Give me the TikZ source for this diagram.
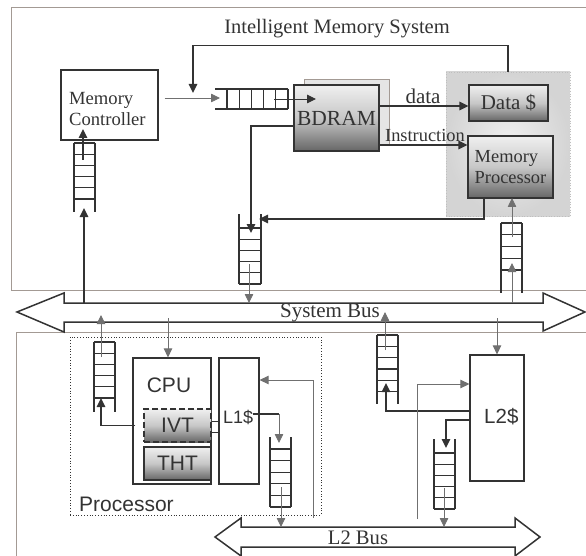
\documentclass[tikz,border=0pt]{standalone}
\usepackage{fontspec}
\setmainfont{Liberation Serif}
\setsansfont{Liberation Sans}
\usetikzlibrary{arrows.meta,shadings,calc}
\definecolor{brn}{HTML}{A39A94}
\definecolor{ink}{HTML}{333333}
\definecolor{thn}{HTML}{707070}
\newcommand{\fsz}[1]{\fontsize{#1}{#1}\selectfont}
\newcommand{\vqueue}[5]{\draw[qline] (#1,#3) -- (#1,#4) (#2,#3) -- (#2,#4);
  \foreach \yy in {#5} {\draw[qline] (#1,\yy) -- (#2,\yy);}}
\begin{document}
\begin{tikzpicture}[x=1pt,y=-1pt,
  outer/.style={draw=brn,line width=0.9pt},
  box/.style={draw=ink,line width=1.2pt,inner sep=0pt},
  gbox/.style={box,top color=black!6,bottom color=black!60,middle color=black!22,text=ink},
  qline/.style={draw=ink,line width=1.3pt},
  thk/.style={draw=ink,line width=1.6pt},
  thn/.style={draw=thn,line width=0.8pt},
  arr/.style={-{Triangle[length=9pt,width=8.5pt]}},
  bus/.style={draw=ink,line width=1.5pt,fill=white},
  lbl/.style={text=ink,inner sep=0pt}
]
\useasboundingbox (0,0) rectangle (586,556);
% outer frames
\draw[outer] (586,7) -- (11,7) -- (11,290) -- (586,290);
\draw[outer] (586,332) -- (16,332) -- (16,556);
% title
\node[lbl,font=\fsz{20.5}] (title) at (337,29) {Intelligent Memory System};
% memory controller
\node[box,minimum width=97pt,minimum height=70pt] (mc) at (109.5,105) {};
\node[lbl,font=\fontsize{18.6}{20.5}\selectfont,align=left,anchor=west] (mctext) at (69,109) {Memory\\Controller};
% BDRAM
\node[draw=brn,fill=black!10,line width=0.8pt,minimum width=85pt,minimum height=66pt] (bdback) at (346.5,112) {};
\node[gbox,minimum width=85pt,minimum height=66pt,font=\fsz{21.5}] (bdram) at (336.5,118) {BDRAM};
% memory processor region
\node[draw=gray!50,dotted,line width=0.7pt,inner color=black!6,outer color=black!17,minimum width=124pt,minimum height=144pt] (mpreg) at (508,144) {};
\node[gbox,minimum width=79pt,minimum height=36pt,font=\fsz{21}] (data) at (508.5,103) {Data \$};
\node[gbox,minimum width=85pt,minimum height=62pt,font=\fontsize{18.4}{21}\selectfont,align=left] (mp) at (510.5,167) {Memory\\Processor};
% processor area
\node[draw=ink,dotted,line width=0.8pt,minimum width=251pt,minimum height=178pt] (proc) at (195.5,426) {};
\node[lbl,font=\sffamily\fsz{21},anchor=west] (proclbl) at (79,504) {Processor};
\node[box,minimum width=78pt,minimum height=126pt] (cpu) at (172,421) {};
\node[lbl,font=\sffamily\fsz{21}] (cpulbl) at (169,385) {CPU};
\node[gbox,dash pattern=on 6pt off 3pt,minimum width=67pt,minimum height=33pt,font=\sffamily\fsz{21}] (ivt) at (177.5,425.5) {IVT};
\node[gbox,minimum width=67pt,minimum height=33pt,font=\sffamily\fsz{21}] (tht) at (177.5,463.5) {THT};
\node[box,minimum width=40pt,minimum height=126pt] (l1) at (239,421) {};
\node[lbl,font=\sffamily\fsz{18},anchor=west] (l1lbl) at (223,417) {L1\$};
\node[box,minimum width=54pt,minimum height=126pt] (l2) at (497,418) {};
\node[lbl,font=\sffamily\fsz{20.5},anchor=west] (l2lbl) at (484,417) {L2\$};
% buses
\draw[bus] (17,312) -- (64,293) -- (64,303) -- (543,303) -- (543,293) -- (585,312) -- (543,331) -- (543,322) -- (64,322) -- (64,332) -- cycle;
\node[lbl,font=\fsz{21}] (sbus) at (330,313) {System Bus};
\draw[bus] (215,537) -- (241,518) -- (241,527) -- (515,527) -- (515,518) -- (540,537) -- (515,556) -- (515,547) -- (241,547) -- (241,556) -- cycle;
\node[lbl,font=\fsz{20.6}] (l2bus) at (358,538) {L2 Bus};
% queues
\vqueue{74}{95}{143}{212}{143,154.2,165.4,176.6,187.8,199}
\draw[qline] (215,89) -- (288,89) (215,109) -- (288,109);
\foreach \xx in {227,239.2,251.4,263.6,275.8,288} {\draw[qline] (\xx,89) -- (\xx,109);}
\vqueue{239}{261}{214}{284}{228,239.2,250.4,261.6,272.8,284}
\vqueue{501}{522}{223}{293}{223,234.75,246.5,258.25,270}
\vqueue{94}{115}{342}{412}{342,353.2,364.4,375.6,386.8,398}
\vqueue{270}{291}{437}{507}{449,460.6,472.2,483.8,495.4,507}
\vqueue{377}{398}{335}{404}{335,346.3,357.6,368.9,380.2,391.5}
\vqueue{434}{455}{439}{509}{453,464.2,475.4,486.6,497.8,509}
% connectors, memory side
\draw[thn,arr] ($(mc.east)+(6,-7)$) -- (220,98);
\draw[thk,arr] (mpreg.north) -- ++(0,-26) -| (193,93);
\draw[draw=ink,line width=0.9pt,arr] (274,99) -- (316,99);
\draw[thk,arr] ([yshift=-8pt]bdram.west) -| (251,233);
\draw[thk,arr] ([xshift=-26.5pt]mp.south) |- (259,219);
\draw[thn,arr] (249,264) -- (249,303);
\draw[thk,arr] ([yshift=12pt]bdram.east) -- ([yshift=12pt]bdram.east -| data.west);
\node[lbl,font=\fsz{21}] (datalbl) at (423,96) {data};
\draw[thk,arr] ([yshift=-27pt]bdram.east) -- ([yshift=-27pt]bdram.east -| mp.west);
\node[lbl,font=\fsz{18.4}] (instlbl) at (425,135) {Instruction};
\draw[thn,arr] (512,237) -- (512,198);
\draw[thn,arr] (512,303) -- (512,263);
\draw[thk,arr] (84,303) -- (84,208);
\draw[draw=ink,line width=1.3pt,arr] (83,160) -- (83,129);
% connectors, processor side
\draw[thn,arr] (168,318) -- ([xshift=-4pt]cpu.north);
\draw[thk,arr] ([xshift=-8pt]ivt.west) -| (101,398);
\draw[thn,arr] (101,357) -- (101,315);
\draw[draw=ink,line width=0.9pt] ([yshift=4.5pt]ivt.east) -- ([yshift=4.5pt]ivt.east -| l1.west)
  ([yshift=-6.5pt]ivt.east) -- ([yshift=-6.5pt]ivt.east -| l1.west);
\draw[thk] (253,414) -- (279,414);
\draw[thn,arr] (279,414) -- (279,443);
\draw[thn,arr] (281,487) -- (281,527);
\draw[thn,arr] (313,518) |- ([yshift=41pt]l1.east);
\draw[thn,arr] (497,318) -- (l2.north);
\draw[thk,arr] ([yshift=7pt]l2.west) -| (386,383);
\draw[thn,arr] (385,350) -- (385,312);
\draw[thk,arr] ([yshift=-2pt]l2.west) -| (446,448);
\draw[thn,arr] (444,488) -- (444,527);
\draw[thn,arr] (417,519) |- ([yshift=34pt]l2.west);
\end{tikzpicture}
\end{document}
